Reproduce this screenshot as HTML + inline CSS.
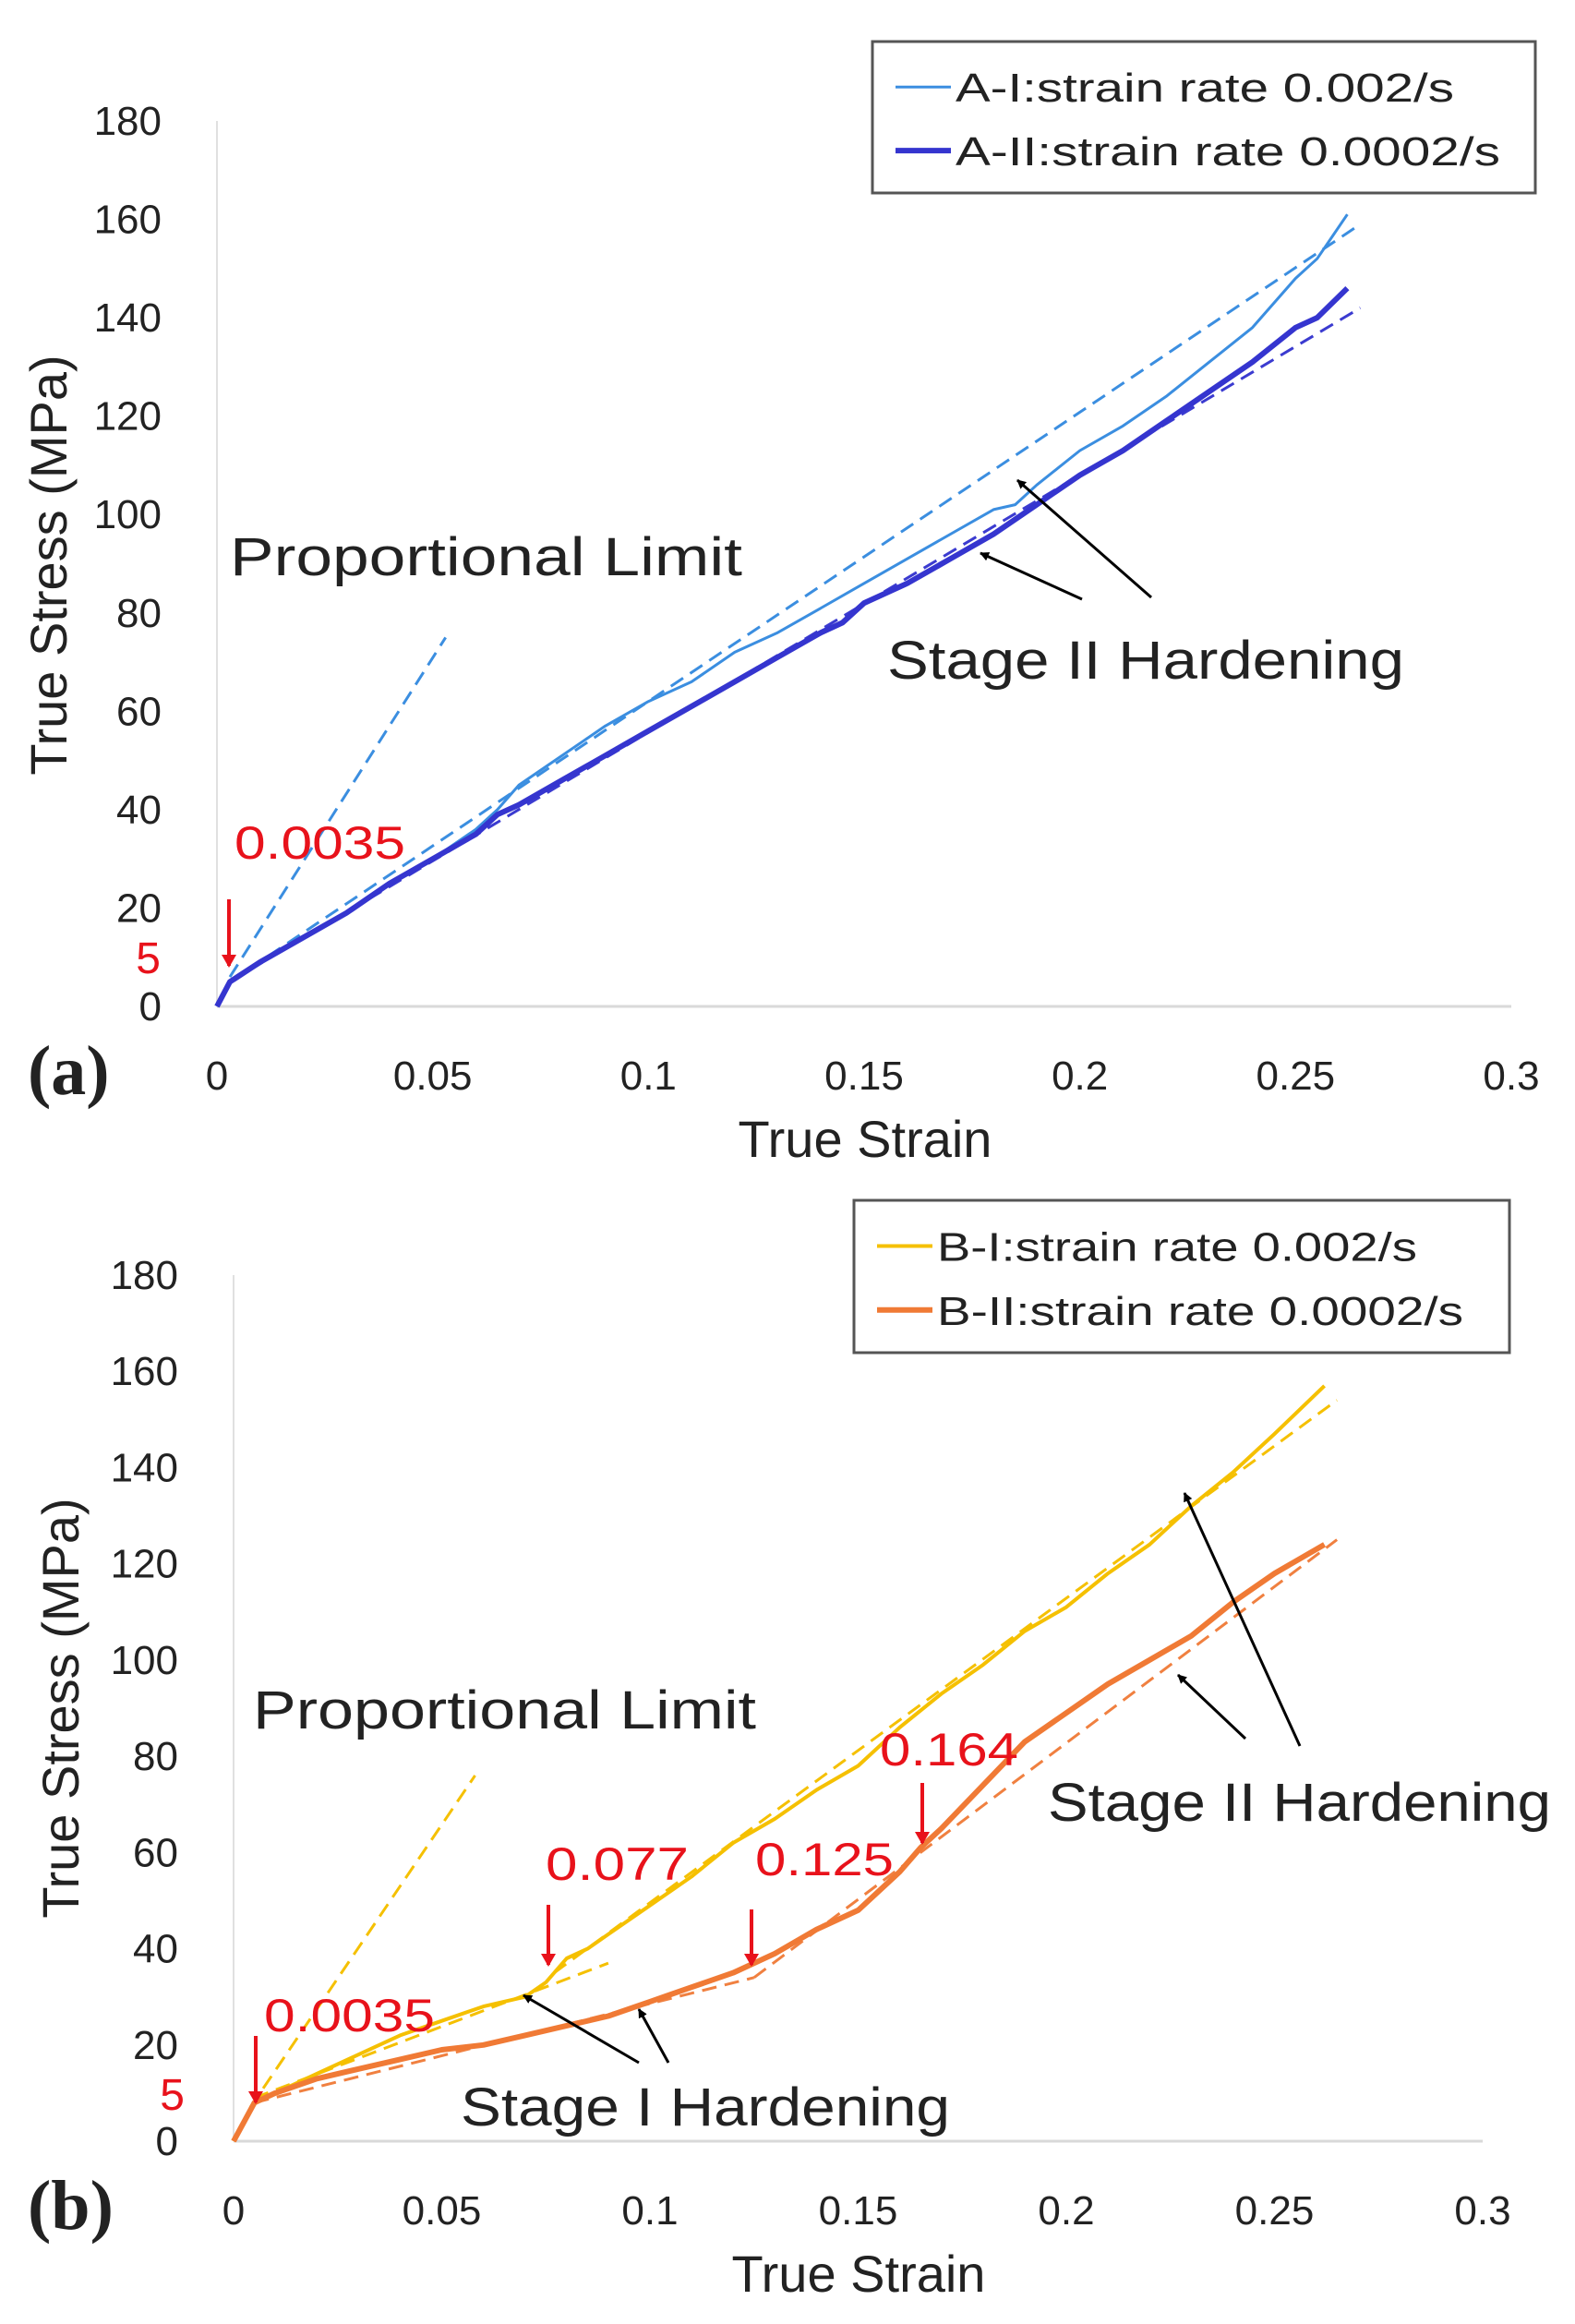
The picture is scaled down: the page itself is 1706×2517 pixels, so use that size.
<!DOCTYPE html>
<html><head><meta charset="utf-8"><style>
html,body{margin:0;padding:0;background:#fff}
svg{display:block}
text{font-family:"Liberation Sans",sans-serif;fill:#222}
</style></head><body>
<svg id="fig" width="1706" height="2517" viewBox="0 0 1706 2517" xmlns="http://www.w3.org/2000/svg">
<defs>
<marker id="ab" markerWidth="10" markerHeight="10" refX="9" refY="5" orient="auto" markerUnits="userSpaceOnUse" viewBox="0 0 10 10"><path d="M0,0 L10,5 L0,10 z" fill="#000"/></marker>
<marker id="ar" markerWidth="14" markerHeight="16" refX="12" refY="8" orient="auto" markerUnits="userSpaceOnUse" viewBox="0 0 14 16"><path d="M0,0 L14,8 L0,16 z" fill="#e8121b"/></marker>
</defs>
<g id="pa"></g>
<g id="pb"></g>
</svg>
<script>
const xTicks=[0,0.05,0.1,0.15,0.2,0.25,0.3];
const xTickLabels=["0","0.05","0.1","0.15","0.2","0.25","0.3"];
const yTicks=[0,20,40,60,80,100,120,140,160,180];
// panel a
const aI_x=[0,0.003,0.01,0.02,0.03,0.04,0.05,0.06,0.065,0.07,0.075,0.085,0.09,0.1,0.11,0.12,0.13,0.14,0.15,0.16,0.17,0.18,0.185,0.19,0.2,0.21,0.22,0.23,0.24,0.25,0.255,0.262];
const aI_y=[0,5,9,14,19,25,30,36,40,45,48,54,57,62,66,72,76,81,86,91,96,101,102,106,113,118,124,131,138,148,152,161];
const aII_x=[0,0.003,0.01,0.02,0.03,0.04,0.05,0.06,0.065,0.07,0.08,0.09,0.1,0.11,0.12,0.13,0.14,0.145,0.15,0.16,0.17,0.18,0.19,0.2,0.21,0.22,0.23,0.24,0.25,0.255,0.262];
const aII_y=[0,5,9,14,19,25,30,35,39,41,46,51,56,61,66,71,76,78,82,86,91,96,102,108,113,119,125,131,138,140,146];
const aFits=[[0.003,5,0.265,159,"#3b8ee0"],[0.003,5,0.265,142,"#3b3bd0"],[0.003,6,0.053,75,"#3b8ee0"]];
// panel b
const bI_x=[0,0.005,0.01,0.02,0.03,0.04,0.05,0.06,0.07,0.075,0.08,0.085,0.09,0.1,0.11,0.12,0.13,0.14,0.15,0.16,0.17,0.18,0.19,0.2,0.21,0.22,0.23,0.24,0.25,0.262];
const bI_y=[0,8,10,14,18,22,25,28,30,33,38,40,43,49,55,62,67,73,78,86,93,99,106,111,118,124,132,139,147,157];
const bII_x=[0,0.005,0.01,0.02,0.03,0.04,0.05,0.06,0.07,0.08,0.09,0.1,0.11,0.12,0.13,0.14,0.15,0.16,0.165,0.17,0.18,0.19,0.2,0.21,0.22,0.23,0.24,0.25,0.262];
const bII_y=[0,8,10,13,15,17,19,20,22,24,26,29,32,35,39,44,48,56,61,65,74,83,89,95,100,105,112,118,124];
const bFits=[[0.004,7,0.058,76,"#f5c000"],[0.005,9,0.09,37,"#f5c000"],[0.077,35,0.265,154,"#f5c000"],[0.005,8,0.125,34,"#f08040"],[0.125,34,0.265,125,"#f08040"]];

const NS="http://www.w3.org/2000/svg";
function mk(p,t,a,txt){const e=document.createElementNS(NS,t);for(const k in a){if(a[k]!==null&&a[k]!==undefined)e.setAttribute(k,a[k]);}if(txt!==undefined)e.textContent=txt;p.appendChild(e);return e;}

function panel(g,P){
  const X=v=>P.x0+(P.x1-P.x0)*v/0.3, Y=v=>P.y0-(P.y0-P.y1)*v/180;
  let e;
  e=mk(g,'line',{x1:X(0),y1:Y(0),x2:X(0.3),y2:Y(0),stroke:'#d9d9d9','stroke-width':3});
  
  e=mk(g,'line',{x1:X(0),y1:Y(0),x2:X(0),y2:Y(180),stroke:'#e0e0e0','stroke-width':2});
  
  xTicks.forEach((t,i)=>{e=mk(g,'text',{x:X(t),y:P.y0+90,'font-size':44,'text-anchor':'middle'},xTickLabels[i]);
    });
  yTicks.forEach(t=>{e=mk(g,'text',{x:P.x0-60,y:Y(t)+15,'font-size':44,'text-anchor':'end'},String(t));
    });
  e=mk(g,'text',{x:P.xt,y:P.y0+163,'font-size':56,'text-anchor':'middle'},'True Strain');
  
  e=mk(g,'text',{x:0,y:0,'font-size':56,'text-anchor':'middle',transform:`translate(${P.yx},${P.yc}) rotate(-90)`},'True Stress (MPa)');
  
  e=mk(g,'text',{x:30,y:P.y0+95,'font-size':76,'font-weight':'bold'},P.tag);
  e.style.fontFamily='"Liberation Serif",serif';
  
  P.fits.forEach(f=>{e=mk(g,'line',{x1:X(f[0]),y1:Y(f[1]),x2:X(f[2]),y2:Y(f[3]),stroke:f[4],'stroke-width':3,'stroke-dasharray':'16,9'});
    });
  P.series.forEach(s=>{const d=s.x.map((v,i)=>(i?'L':'M')+X(v).toFixed(1)+','+Y(s.y[i]).toFixed(1)).join(' ');
    e=mk(g,'path',{d:d,fill:'none',stroke:s.c,'stroke-width':s.w,'stroke-linejoin':'round'});
    });
  const L=P.leg;
  e=mk(g,'rect',{x:L[0],y:L[1],width:L[2],height:L[3],fill:'#fff',stroke:'#555','stroke-width':3});
  
  P.series.forEach((s,i)=>{const yy=L[1]+L[3]*(i?0.72:0.3);
    e=mk(g,'line',{x1:L[0]+25,y1:yy,x2:L[0]+85,y2:yy,stroke:s.c,'stroke-width':s.w});
    
    e=mk(g,'text',{x:L[0]+90,y:yy+16,'font-size':44,textLength:s.lw,lengthAdjust:'spacingAndGlyphs'},s.label);
    });
  P.texts.forEach(t=>{e=mk(g,'text',{x:t[0],y:t[1],'font-size':t[4],textLength:t[5],lengthAdjust:t[5]?'spacingAndGlyphs':null,'text-anchor':t[6]||'start'},t[2]);
    e.style.fill=t[3];});
  P.arrows.forEach(a=>{const red=a[4];e=mk(g,'line',{x1:a[0],y1:a[1],x2:a[2],y2:a[3],stroke:red?'#e8121b':'#000','stroke-width':red?4:3,'marker-end':red?'url(#ar)':'url(#ab)'});
    });
}
panel(document.getElementById('pa'),{x0:235,x1:1637,y0:1090,y1:131,xt:937,yx:72,yc:612,tag:'(a)',fits:aFits,
  series:[{x:aI_x,y:aI_y,c:'#3b8ee0',w:3,name:'series-a-I',label:'A-I:strain rate 0.002/s',lw:540},
          {x:aII_x,y:aII_y,c:'#3535cf',w:6,name:'series-a-II',label:'A-II:strain rate 0.0002/s',lw:590}],
  leg:[945,45,718,164],
  texts:[[249,623,'Proportional Limit','#222',58,555],[961,735,'Stage II Hardening','#222',58,560],
         [254,930,'0.0035','#e8121b',50,185],[174,1054,'5','#e8121b',48,null,'end']],
  arrows:[[248,974,248,1046,1],[1247,647,1102,520,0],[1172,649,1062,599,0]]});
panel(document.getElementById('pb'),{x0:253,x1:1606,y0:2319,y1:1381,xt:930,yx:85,yc:1850,tag:'(b)',fits:bFits,
  series:[{x:bI_x,y:bI_y,c:'#f5c000',w:4,name:'series-b-I',label:'B-I:strain rate 0.002/s',lw:520},
          {x:bII_x,y:bII_y,c:'#f07a35',w:6,name:'series-b-II',label:'B-II:strain rate 0.0002/s',lw:570}],
  leg:[925,1300,710,165],
  texts:[[274,1872,'Proportional Limit','#222',58,545],[1135,1972,'Stage II Hardening','#222',58,545],
         [499,2302,'Stage I Hardening','#222',58,530],[286,2200,'0.0035','#e8121b',50,185],
         [591,2036,'0.077','#e8121b',50,155],[818,2031,'0.125','#e8121b',50,150],[953,1912,'0.164','#e8121b',50,150],
         [200,2285,'5','#e8121b',48,null,'end']],
  arrows:[[277,2205,277,2277,1],[594,2063,594,2128,1],[814,2068,814,2128,1],[999,1931,999,1996,1],
          [692,2234,567,2161,0],[724,2234,692,2176,0],[1408,1891,1283,1617,0],[1349,1883,1276,1814,0]]});
</script>
</body></html>
